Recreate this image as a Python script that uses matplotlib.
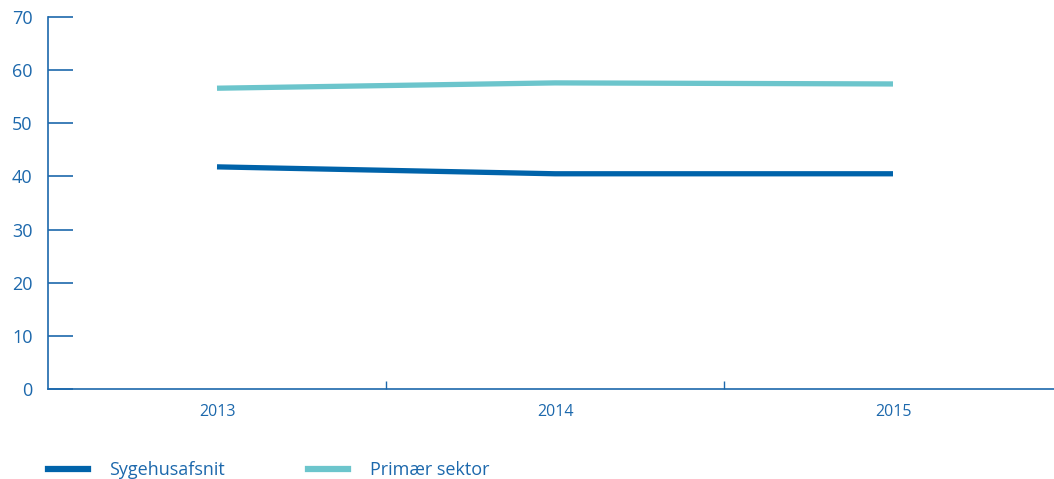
import matplotlib
matplotlib.use("Agg")
import matplotlib.pyplot as plt
from matplotlib.lines import Line2D

years = ["2013", "2014", "2015"]
sygehus = [41.8, 40.5, 40.5]
primaer = [56.6, 57.6, 57.4]
series_names = ["Sygehusafsnit", "Primær sektor"]
yticks = [0, 10, 20, 30, 40, 50, 60, 70]

dark = "#0063AA"
teal = "#6CC5CC"
axc = "#1C68AC"

plt.rcParams['font.family'] = ['Open Sans', 'DejaVu Sans']

W, H = 1054, 479
fig = plt.figure(figsize=(W / 100, H / 100), dpi=100)
ax = fig.add_axes([48 / W, (H - 389) / H, (1062 - 48) / W, 372 / H])

x = list(range(len(years)))
ax.plot(x, sygehus, color=dark, lw=3.8, solid_capstyle='butt', label=series_names[0])
ax.plot(x, primaer, color=teal, lw=3.8, solid_capstyle='butt', label=series_names[1])

ax.set_xlim(-0.5, 2.5)
ax.set_ylim(0, 70)
ax.set_yticks(yticks)
ax.set_yticklabels([str(v) for v in yticks])
ax.set_xticks(x)
ax.set_xticklabels(years)
ax.set_xticks([0.5, 1.5], minor=True)

for s in ['top', 'right']:
    ax.spines[s].set_visible(False)
for s in ['left', 'bottom']:
    ax.spines[s].set_color(axc)
    ax.spines[s].set_linewidth(1.2)

ax.tick_params(axis='y', direction='in', length=18, width=1.2, color=axc,
               labelcolor=axc, labelsize=13, pad=11)
ax.tick_params(axis='x', which='major', length=0, labelcolor=axc, labelsize=11.5, pad=11)
ax.tick_params(axis='x', which='minor', direction='in', length=6, width=1, color=axc)

handles = [Line2D([], [], color=dark, lw=4.5), Line2D([], [], color=teal, lw=4.5)]
leg = fig.legend(handles, series_names, loc='upper left', bbox_to_anchor=(48 / W, (H - 461) / H),
                 ncol=2, frameon=False, fontsize=13, handlelength=2.2, handletextpad=1.2,
                 columnspacing=4.6, borderaxespad=0, borderpad=0)
for t in leg.get_texts():
    t.set_color(axc)

fig.savefig("out.png", dpi=100)
